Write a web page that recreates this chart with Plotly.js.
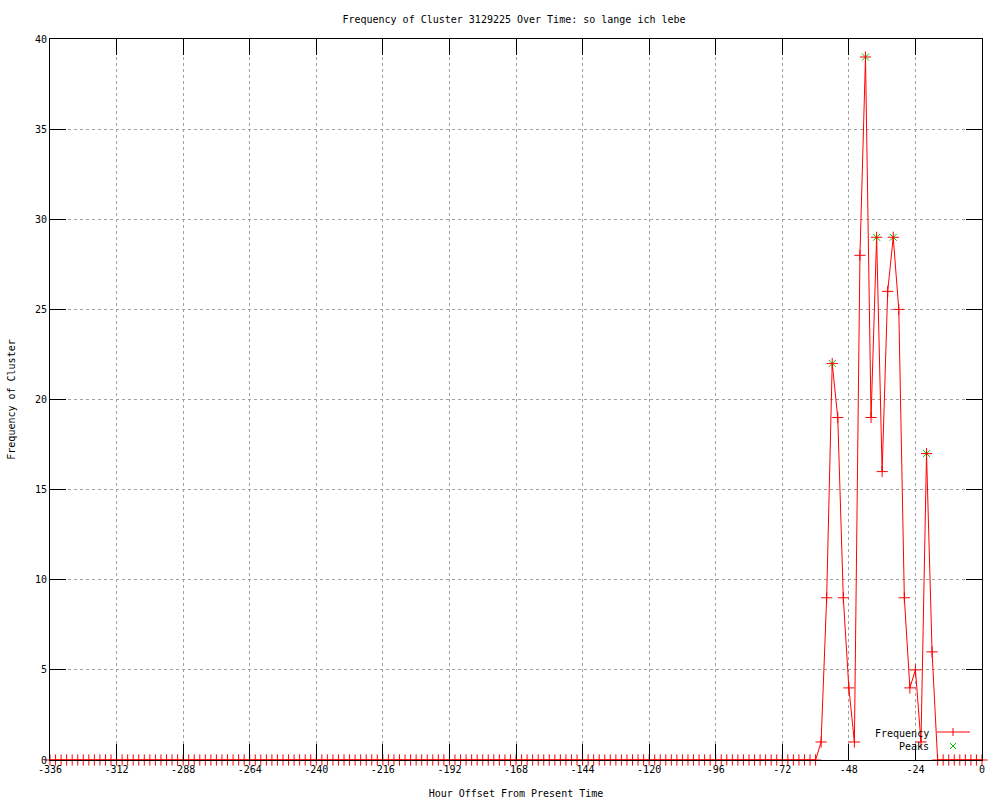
<!DOCTYPE html>
<html>
<head>
<meta charset="utf-8">
<script src="https://cdn.plot.ly/plotly-3.0.1.min.js"></script>
<style>
  html, body { margin: 0; padding: 0; background: #fff; }
  #chart { width: 1000px; height: 800px; }
</style>
</head>
<body>
<div id="chart"></div>
<script>
// Hour offsets (every 2 hours over the last 14 days)
const hours = [
  -336,-334,-332,-330,-328,-326,-324,-322,-320,-318,-316,-314,-312,-310,-308,-306,-304,-302,-300,-298,
  -296,-294,-292,-290,-288,-286,-284,-282,-280,-278,-276,-274,-272,-270,-268,-266,-264,-262,-260,-258,
  -256,-254,-252,-250,-248,-246,-244,-242,-240,-238,-236,-234,-232,-230,-228,-226,-224,-222,-220,-218,
  -216,-214,-212,-210,-208,-206,-204,-202,-200,-198,-196,-194,-192,-190,-188,-186,-184,-182,-180,-178,
  -176,-174,-172,-170,-168,-166,-164,-162,-160,-158,-156,-154,-152,-150,-148,-146,-144,-142,-140,-138,
  -136,-134,-132,-130,-128,-126,-124,-122,-120,-118,-116,-114,-112,-110,-108,-106,-104,-102,-100,-98,
  -96,-94,-92,-90,-88,-86,-84,-82,-80,-78,-76,-74,-72,-70,-68,-66,-64,-62,-60,-58,
  -56,-54,-52,-50,-48,-46,-44,-42,-40,-38,-36,-34,-32,-30,-28,-26,-24,-22,-20,-18,
  -16,-14,-12,-10,-8,-6,-4,-2,0
];
const frequency = [
  0,0,0,0,0,0,0,0,0,0,0,0,0,0,0,0,0,0,0,0,
  0,0,0,0,0,0,0,0,0,0,0,0,0,0,0,0,0,0,0,0,
  0,0,0,0,0,0,0,0,0,0,0,0,0,0,0,0,0,0,0,0,
  0,0,0,0,0,0,0,0,0,0,0,0,0,0,0,0,0,0,0,0,
  0,0,0,0,0,0,0,0,0,0,0,0,0,0,0,0,0,0,0,0,
  0,0,0,0,0,0,0,0,0,0,0,0,0,0,0,0,0,0,0,0,
  0,0,0,0,0,0,0,0,0,0,0,0,0,0,0,0,0,0,0,1,
  9,22,19,9,4,1,28,39,19,29,16,26,29,25,9,4,5,1,17,6,
  0,0,0,0,0,0,0,0,0
];
// Detected peaks
const peakHours = [-54, -42, -38, -32, -20];
const peakValues = [22, 39, 29, 29, 17];

// Axis ticks
const xTickVals = [-336,-312,-288,-264,-240,-216,-192,-168,-144,-120,-96,-72,-48,-24,0];
const xTickText = ["-336","-312","-288","-264","-240","-216","-192","-168","-144","-120","-96","-72","-48","-24","0"];
const yTickVals = [0,5,10,15,20,25,30,35,40];

const FONT = "DejaVu Sans Mono, Liberation Mono, monospace";

const traces = [
  {
    x: peakHours, y: peakValues, type: "scatter", mode: "markers",
    name: "Peaks",
    marker: { symbol: "x-thin", size: 7, line: { color: "#00c000", width: 1 }, color: "#00c000" },
    showlegend: false, cliponaxis: false
  },
  {
    x: hours, y: frequency, type: "scatter", mode: "lines+markers",
    name: "Frequency",
    line: { color: "#ff0000", width: 1 },
    marker: { symbol: "cross-thin", size: 8, line: { color: "#ff0000", width: 1 }, color: "#ff0000" },
    showlegend: false, cliponaxis: false
  }
];

// Manual legend (gnuplot style: text right-aligned, sample to the right)
const L = 50, W = 932, B = 760, H = 721;
const px = (p) => (p - L) / W;
const py = (p) => (B - p) / H;
const legendShapes = [
  { type: "line", xref: "paper", yref: "paper", x0: px(937), x1: px(970), y0: py(732), y1: py(732), line: { color: "#ff0000", width: 1 } },
  { type: "line", xref: "paper", yref: "paper", x0: px(953), x1: px(953), y0: py(728), y1: py(736), line: { color: "#ff0000", width: 1 } },
  { type: "line", xref: "paper", yref: "paper", x0: px(950), x1: px(956), y0: py(743), y1: py(749), line: { color: "#00c000", width: 1 } },
  { type: "line", xref: "paper", yref: "paper", x0: px(950), x1: px(956), y0: py(749), y1: py(743), line: { color: "#00c000", width: 1 } }
];

const layout = {
  width: 1000, height: 800,
  paper_bgcolor: "#ffffff", plot_bgcolor: "#ffffff",
  margin: { l: 50, r: 18, t: 39, b: 40, pad: 0 },
  font: { family: FONT, size: 10, color: "#000000" },
  title: {
    text: "Frequency of Cluster 3129225 Over Time: so lange ich lebe",
    font: { family: FONT, size: 10, color: "#000000" },
    x: 0.514, xanchor: "center", y: 0.976, yanchor: "middle"
  },
  xaxis: {
    range: [-336, 0], tickmode: "array", tickvals: xTickVals, ticktext: xTickText,
    ticks: "inside", ticklen: 16, tickwidth: 1, tickcolor: "#000000",
    showline: true, linecolor: "#000000", linewidth: 1, mirror: "ticks",
    showgrid: true, gridcolor: "#a0a0a0", gridwidth: 1, griddash: "3px,3px",
    zeroline: false, tickfont: { family: FONT, size: 10, color: "#000000" },
    title: { text: "Hour Offset From Present Time", font: { family: FONT, size: 10, color: "#000000" }, standoff: 15 },
    automargin: false, fixedrange: true
  },
  yaxis: {
    range: [0, 40], tickmode: "array", tickvals: yTickVals,
    ticks: "inside", ticklen: 16, tickwidth: 1, tickcolor: "#000000",
    showline: true, linecolor: "#000000", linewidth: 1, mirror: "ticks",
    showgrid: true, gridcolor: "#a0a0a0", gridwidth: 1, griddash: "3px,3px",
    zeroline: false, tickfont: { family: FONT, size: 10, color: "#000000" },
    title: { text: "Frequency of Cluster", font: { family: FONT, size: 10, color: "#000000" }, standoff: 17 },
    automargin: false, fixedrange: true
  },
  showlegend: false,
  shapes: legendShapes,
  annotations: [
    { text: "Frequency", xref: "paper", yref: "paper", x: px(931), y: py(733), xanchor: "right", yanchor: "middle", showarrow: false, font: { family: FONT, size: 10, color: "#000000" } },
    { text: "Peaks", xref: "paper", yref: "paper", x: px(931), y: py(746), xanchor: "right", yanchor: "middle", showarrow: false, font: { family: FONT, size: 10, color: "#000000" } }
  ]
};

Plotly.newPlot("chart", traces, layout, { displayModeBar: false, staticPlot: true });
</script>
</body>
</html>
